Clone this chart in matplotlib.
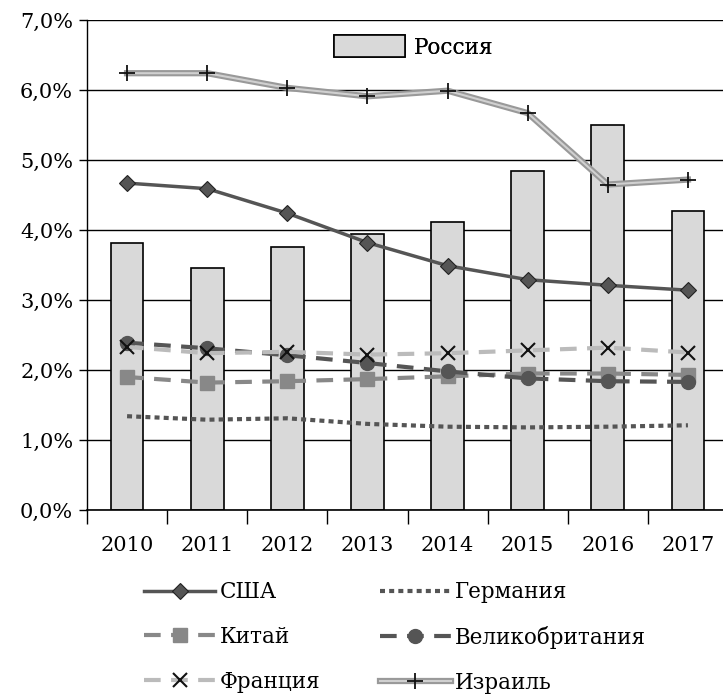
import matplotlib
matplotlib.use("Agg")
import matplotlib.pyplot as plt
from matplotlib.legend_handler import HandlerTuple
import numpy as np

years = ["2010", "2011", "2012", "2013", "2014", "2015", "2016", "2017"]
russia = [3.82, 3.46, 3.76, 3.95, 4.11, 4.85, 5.50, 4.27]
usa = [4.67, 4.59, 4.24, 3.82, 3.49, 3.29, 3.21, 3.14]
germany = [1.34, 1.29, 1.31, 1.23, 1.19, 1.18, 1.19, 1.21]
china = [1.90, 1.82, 1.84, 1.87, 1.91, 1.95, 1.95, 1.93]
uk = [2.39, 2.31, 2.21, 2.10, 1.98, 1.88, 1.84, 1.83]
france = [2.33, 2.24, 2.26, 2.22, 2.24, 2.28, 2.32, 2.25]
israel = [6.24, 6.24, 6.03, 5.91, 5.99, 5.67, 4.65, 4.72]
yticks = [0, 1, 2, 3, 4, 5, 6, 7]
ytick_labels = ["0,0%", "1,0%", "2,0%", "3,0%", "4,0%", "5,0%", "6,0%", "7,0%"]

plt.rcParams['font.family'] = ['DejaVu Serif']

fig = plt.figure(figsize=(7.23, 6.99), dpi=100)
ax = fig.add_axes([87/723, 1-510/699, 641/723, 490/699])

x = np.arange(len(years))
bars = ax.bar(x, russia, width=0.41, color="#d9d9d9", edgecolor="black", linewidth=1.2, zorder=2, label="Россия")

ln_us, = ax.plot(x, usa, color="#555555", lw=2.5, marker="D", ms=8, mfc="#555555", mec="#222222", mew=0.8, zorder=5)
ln_de, = ax.plot(x, germany, color="#555555", lw=3, linestyle=(0, (1.2, 1)), zorder=4)
ln_cn, = ax.plot(x, china, color="#888888", lw=3, linestyle=(0, (4, 2.5)), marker="s", ms=10, mfc="#888888", mec="#888888", zorder=4)
ln_uk, = ax.plot(x, uk, color="#555555", lw=3, linestyle=(0, (4, 2.5)), marker="o", ms=10, mfc="#555555", mec="#555555", zorder=4)
ln_fr, = ax.plot(x, france, color="#bbbbbb", lw=3, linestyle=(0, (4, 2.5)), zorder=4)
mk_fr, = ax.plot(x, france, linestyle="none", marker="x", ms=10, mew=1.5, color="#111111", zorder=6)
ln_il1, = ax.plot(x, israel, color="#999999", lw=4.5, zorder=5)
ln_il2, = ax.plot(x, israel, color="#d0d0d0", lw=1.5, zorder=5)
mk_il, = ax.plot(x, israel, linestyle="none", marker="+", ms=12, mew=1.3, color="#111111", zorder=6)

ax.set_xlim(-0.5, len(years) - 0.5)
ax.set_ylim(0, 7)
ax.set_yticks(yticks)
ax.set_yticklabels(ytick_labels, fontsize=15)
ax.yaxis.grid(True, color="black", lw=1)
ax.set_axisbelow(True)
ax.set_xticks(x)
ax.set_xticklabels(years, fontsize=15)
ax.set_xticks(np.arange(len(years) + 1) - 0.5, minor=True)
ax.tick_params(axis="x", which="major", length=0, pad=19)
ax.tick_params(axis="x", which="minor", length=10, width=1, direction="out")
ax.tick_params(axis="y", length=6, width=1, direction="out", pad=4)
for s in ["top", "right"]:
    ax.spines[s].set_visible(False)
ax.spines["left"].set_linewidth(1)
ax.spines["bottom"].set_linewidth(1.2)

leg1 = ax.legend(handles=[bars], labels=["Россия"], loc="center", bbox_to_anchor=(0.51, 0.945),
                 frameon=False, fontsize=15.5, handlelength=3.3, handleheight=1.2, handletextpad=0.4)
ax.add_artist(leg1)

handles = [ln_us, ln_cn, (ln_fr, mk_fr), ln_de, ln_uk, (ln_il1, ln_il2, mk_il)]
labels = ["США", "Китай", "Франция", "Германия", "Великобритания", "Израиль"]
fig.legend(handles=handles, labels=labels, loc="lower left", bbox_to_anchor=(125/723, -0.02),
           ncol=2, frameon=False, fontsize=15.5, handlelength=3.3, handletextpad=0.2,
           columnspacing=2.75, labelspacing=1.05,
           handler_map={tuple: HandlerTuple(ndivide=1, pad=0)})

fig.savefig("out.png", dpi=100)
